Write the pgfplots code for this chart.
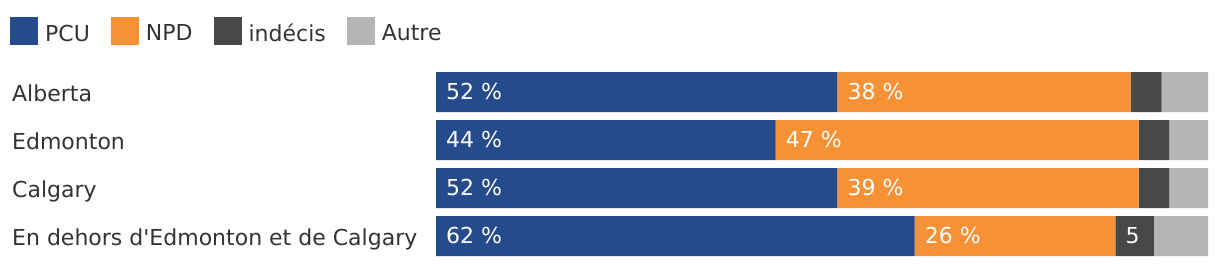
\documentclass[border=0pt]{standalone}
\usepackage{fontspec}
\setmainfont{DejaVu Sans}
\usepackage{pgfplots}
\pgfplotsset{compat=1.18}
\definecolor{pcu}{HTML}{264B8C}
\definecolor{npd}{HTML}{F69135}
\definecolor{ind}{HTML}{484848}
\definecolor{aut}{HTML}{B5B5B5}
\definecolor{txt}{HTML}{333333}
\newcommand{\f}{\fontsize{22}{26}\selectfont}
\begin{document}
\begin{tikzpicture}[x=1pt,y=1pt]
\path (0,0) rectangle (1220,-268);
\pgfplotsset{base/.style={
  at={(436pt,-72pt)}, anchor=north west, scale only axis,
  width=772pt, height=184pt, xmin=0, xmax=100,
  ymin=-0.416667, ymax=3.416667, y dir=reverse,
  axis line style={draw=none}, major tick length=0pt,
  xtick=\empty, /pgf/number format/assume math mode=true}}
\begin{axis}[base, xbar stacked, bar width=40pt,
  ytick={0,1,2,3},
  yticklabels={Alberta,Edmonton,Calgary,En dehors d\textquotesingle Edmonton et de Calgary},
  yticklabel style={anchor=base west, xshift=-424pt, yshift=-9.5pt, inner sep=0pt, font=\f, text=txt},
  legend columns=-1,
  legend style={at={(-0.551813,1.298913)}, anchor=north west, draw=none, fill=none,
    inner sep=0pt, font=\f, text=txt, nodes={inner sep=0pt, anchor=west},
    /tikz/every odd column/.append style={column sep=7pt},
    /tikz/every even column/.append style={column sep=21pt, yshift=-2.5pt}},
  legend image code/.code={\fill[#1] (0pt,-14pt) rectangle (28pt,14pt);}]
\addplot[fill=pcu, draw=none] coordinates {(52,0) (44,1) (52,2) (62,3)};
\addplot[fill=npd, draw=none] coordinates {(38,0) (47,1) (39,2) (26,3)};
\addplot[fill=ind, draw=none] coordinates {(4,0) (4,1) (4,2) (5,3)};
\addplot[fill=aut, draw=none] coordinates {(6,0) (5,1) (5,2) (7,3)};
\legend{PCU, NPD, indécis, Autre}
\end{axis}
\begin{axis}[base, ytick=\empty]
\addplot[draw=none, mark=none, nodes near coords={\pgfmathprintnumber{\pgfplotspointmeta}~\%},
  point meta=explicit,
  every node near coord/.style={anchor=base west, xshift=10pt, yshift=-7.5pt, inner sep=0pt, text=white, font=\f}]
  table[x=x, y=y, meta=v] {
x y v
0 0 52
52 0 38
0 1 44
44 1 47
0 2 52
52 2 39
0 3 62
62 3 26
};
\addplot[draw=none, mark=none, nodes near coords={\pgfmathprintnumber{\pgfplotspointmeta}},
  point meta=explicit,
  every node near coord/.style={anchor=base west, xshift=10pt, yshift=-7.5pt, inner sep=0pt, text=white, font=\f}]
  table[x=x, y=y, meta=v] {
x y v
88 3 5
};
\end{axis}
\end{tikzpicture}
\end{document}
